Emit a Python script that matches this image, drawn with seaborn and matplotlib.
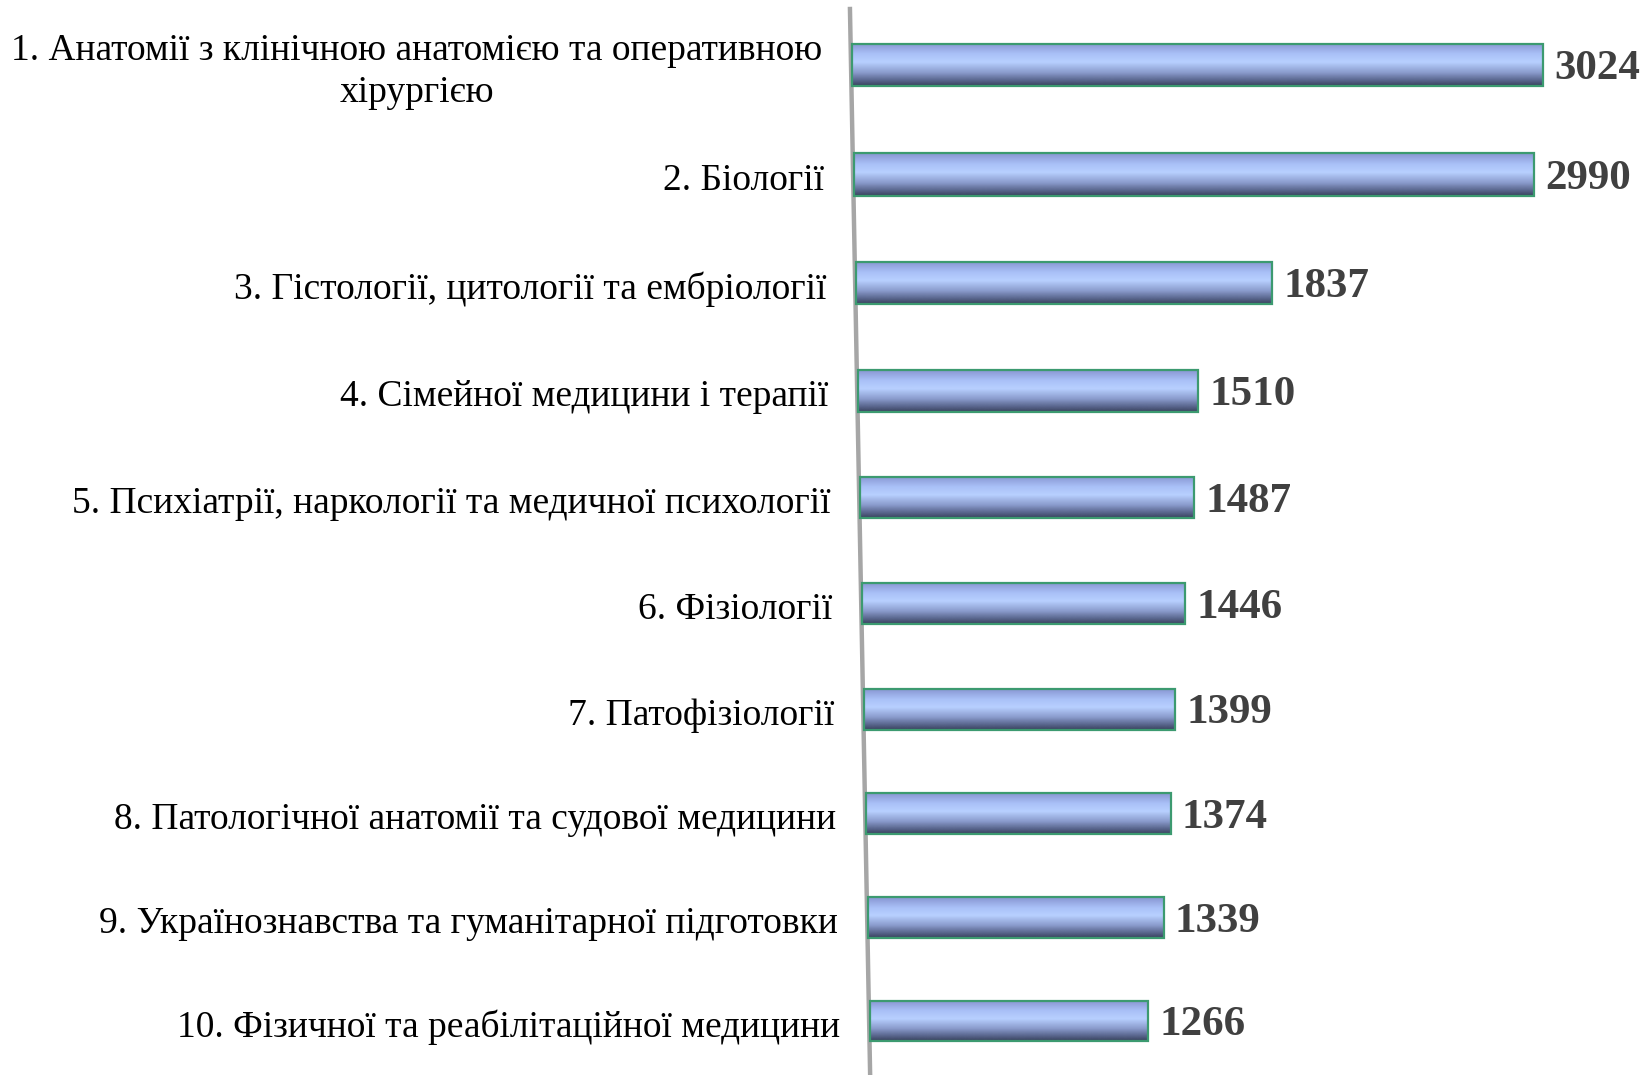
import numpy as np
import pandas as pd
import matplotlib
matplotlib.use('Agg')
import matplotlib.pyplot as plt
from matplotlib.colors import LinearSegmentedColormap
import seaborn as sns

categories = [
    '1. Анатомії з клінічною анатомією та оперативною\nхірургією',
    '2. Біології',
    '3. Гістології, цитології та ембріології',
    '4. Сімейної медицини і терапії',
    '5. Психіатрії, наркології та медичної психології',
    '6. Фізіології',
    '7. Патофізіології',
    '8. Патологічної анатомії та судової медицини',
    '9. Українознавства та гуманітарної підготовки',
    '10. Фізичної та реабілітаційної медицини',
]
values = [3024, 2990, 1837, 1510, 1487, 1446, 1399, 1374, 1339, 1266]

df = pd.DataFrame({'cat': categories, 'val': values})

sns.set_style('white')
plt.rcParams['font.family'] = ['Liberation Serif', 'DejaVu Serif']

fig = plt.figure(figsize=(16.46, 10.75), dpi=100)
ax = fig.add_axes([0, 0, 1, 1])

bar_h = 0.39
sns.barplot(data=df, x='val', y='cat', orient='h', width=bar_h,
            color='#a8bff5', edgecolor='#3c9a70', linewidth=1.6, ax=ax)

# mild perspective: rows get slightly closer together further down
PC, PD = 104.46, 0.372


def persp(y):
    y = np.asarray(y, dtype=float)
    return PC * y - PD * y ** 2


def persp_inv(t):
    t = np.asarray(t, dtype=float)
    r = np.clip(PC ** 2 - 4 * PD * t, 0, None)
    return (PC - np.sqrt(r)) / (2 * PD)


ax.set_yscale('function', functions=(persp, persp_inv))
ax.set_ylim(9.53, -0.5916)

# slanted baseline: rows further down shift right and shrink a bit
shift = 8.8
shrink = 0.0042
ax.set_xlim(-3730, 3477)

cmap = LinearSegmentedColormap.from_list('cyl', [
    (0.0, '#8896d2'), (0.25, '#a9c0f7'), (0.45, '#b8d0ff'),
    (0.7, '#8a9bcc'), (0.88, '#5a678f'), (1.0, '#3c4562')])
grad = np.linspace(0, 1, 64).reshape(-1, 1)

for i, p in enumerate(ax.patches):
    p.set_x(p.get_x() + shift * i)
    p.set_width(p.get_width() * (1 - shrink * i))
    x0, y0 = p.get_x(), p.get_y()
    w, h = p.get_width(), p.get_height()
    im = ax.imshow(grad, cmap=cmap, aspect='auto', origin='upper',
                   extent=[x0, x0 + w, y0 + h, y0], zorder=p.get_zorder() + 0.1,
                   interpolation='bicubic')
    im.set_clip_path(p)
    p.set_facecolor('none')
    p.set_zorder(p.get_zorder() + 0.2)

ax.set_xlim(-3730, 3477)
ax.set_ylim(9.53, -0.5916)

# axis line
yl = np.array([-0.53, 9.6])
ax.plot(yl * shift - 4, yl, color='#a6a6a6', lw=3.2, zorder=0.5, solid_capstyle='butt')

for i, (c, v) in enumerate(zip(categories, values)):
    base = shift * i
    end = base + v * (1 - shrink * i)
    ax.text(base - 130, i + 0.06, c, ha='right', va='center', multialignment='center',
            fontsize=27, color='black', linespacing=1.3)
    ax.text(end + 50, i + 0.04, str(v), ha='left', va='center',
            fontsize=31, fontweight='bold', color='#404040')

ax.set_axis_off()
fig.savefig('out.png', dpi=100)
